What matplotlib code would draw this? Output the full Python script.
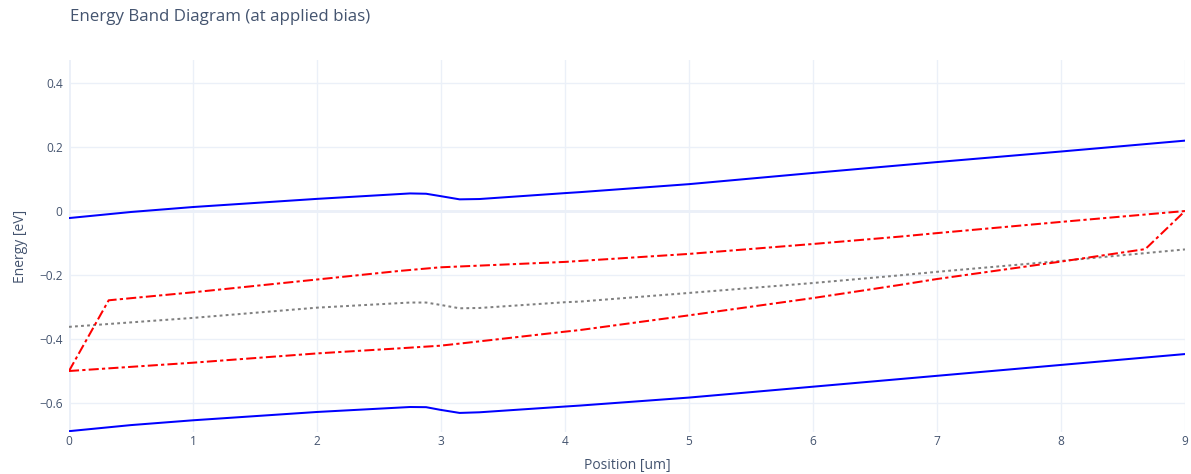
import numpy as np
import matplotlib.pyplot as plt

plt.rcParams['font.family'] = ['Open Sans', 'DejaVu Sans']

# conduction band
ec_x = [0, 0.5, 1, 2, 2.75, 2.88, 2.99, 3.15, 3.31, 4, 4.12, 5, 6, 7, 8, 9]
ec_y = [-0.022, -0.003, 0.0125, 0.038, 0.055, 0.054, 0.047, 0.0365, 0.0375,
        0.056, 0.059, 0.084, 0.119, 0.153, 0.186, 0.220]

# valence band
ev_x = [0, 0.5, 1, 2, 2.75, 2.88, 2.99, 3.15, 3.31, 4, 4.12, 5, 6, 7, 8, 9]
ev_y = [-0.688, -0.669, -0.654, -0.628, -0.6125, -0.613, -0.621, -0.631, -0.629,
        -0.611, -0.608, -0.583, -0.549, -0.515, -0.481, -0.447]

# intrinsic level
ei_x = [0, 1, 2, 2.75, 2.88, 2.99, 3.15, 3.31, 4, 4.12, 5, 6, 6.7, 7, 8, 9]
ei_y = [-0.362, -0.334, -0.302, -0.286, -0.286, -0.293, -0.304, -0.303,
        -0.285, -0.283, -0.256, -0.225, -0.201, -0.19, -0.156, -0.120]

# quasi fermi level (electrons)
fn_x = [0, 0.32, 1, 2, 2.67, 2.99, 4, 5, 6, 6.7, 7, 8, 9]
fn_y = [-0.5, -0.279, -0.254, -0.214, -0.187, -0.176, -0.159, -0.134,
        -0.103, -0.080, -0.069, -0.034, 0.0]

# quasi fermi level (holes)
fp_x = [0, 1, 2, 2.67, 2.99, 3.18, 4, 4.12, 5, 6, 6.7, 7, 8, 8.68, 9]
fp_y = [-0.5, -0.474, -0.445, -0.429, -0.421, -0.413, -0.377, -0.372, -0.326,
        -0.272, -0.231, -0.2125, -0.158, -0.119, 0.0]

txt = '#44546f'
grid = '#EBF0F8'

fig = plt.figure(figsize=(11.91, 4.74), dpi=100)
ax = fig.add_axes([69/1191, 1-432/474, (1185-69)/1191, (432-60)/474])

ax.plot(ec_x, ec_y, color='blue', lw=1.45, zorder=3)
ax.plot(ev_x, ev_y, color='blue', lw=1.45, zorder=3)
ax.plot(ei_x, ei_y, color='grey', lw=1.45, dashes=(1.4, 1.6), zorder=3)
ax.plot(fn_x, fn_y, color='red', lw=1.45, dashes=(5, 1.6, 1.6, 1.6), zorder=3)
ax.plot(fp_x, fp_y, color='red', lw=1.45, dashes=(5, 1.6, 1.6, 1.6), zorder=3)

ax.set_xlim(0, 9)
ax.set_ylim(-0.6906, 0.472)
ax.set_xticks(np.arange(0, 10, 1))
ax.set_yticks([-0.6, -0.4, -0.2, 0, 0.2, 0.4])
ax.set_yticklabels(['\u22120.6', '\u22120.4', '\u22120.2', '0', '0.2', '0.4'])
ax.grid(True, color=grid, lw=1, zorder=0)
ax.axhline(0, color=grid, lw=2, zorder=1)
ax.axvline(0, color=grid, lw=2, zorder=1)
for s in ax.spines.values():
    s.set_visible(False)
ax.tick_params(length=0, labelsize=8.6, labelcolor=txt)
ax.tick_params(axis='x', pad=2.5)
ax.tick_params(axis='y', pad=4.5)

ax.set_xlabel('Position [um]', fontsize=10, color=txt, labelpad=6.5)
ax.set_ylabel('Energy [eV]', fontsize=10, color=txt, labelpad=8)
fig.text(70/1191, 1-17/474, 'Energy Band Diagram (at applied bias)', fontsize=12.2,
         color=txt, va='center', ha='left')

plt.savefig('out.png')
